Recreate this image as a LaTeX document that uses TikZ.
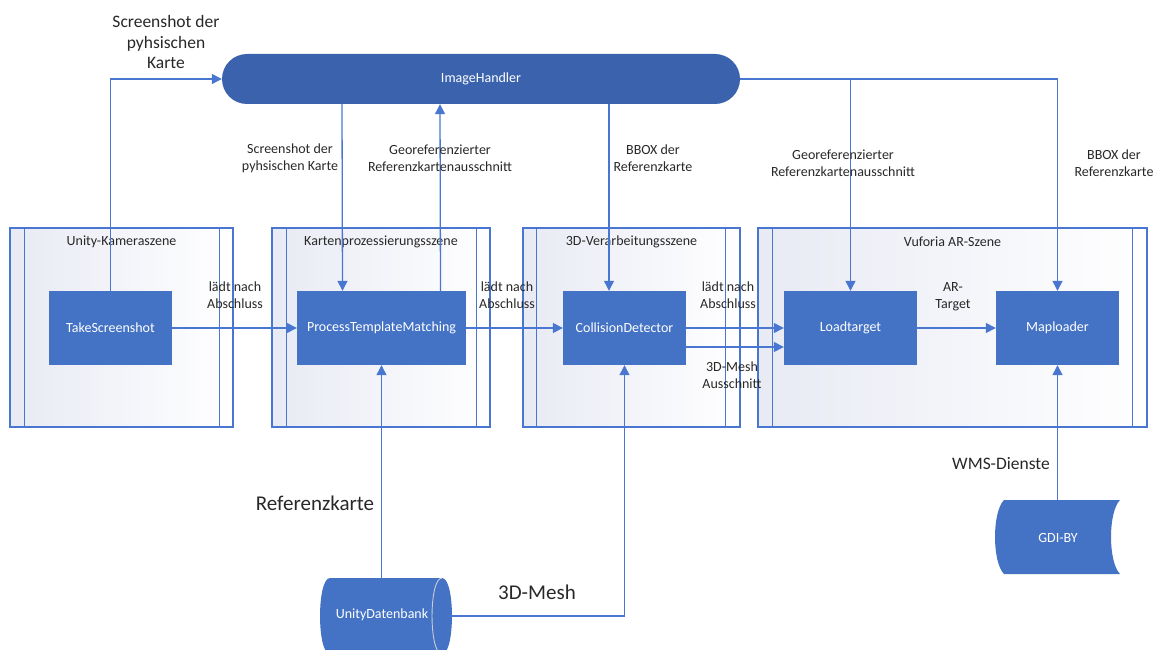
\documentclass[tikz,border=0pt]{standalone}
\usepackage{fontspec}
\setmainfont{Carlito}
\usetikzlibrary{arrows.meta,calc}
\definecolor{boxblue}{RGB}{68,114,196}
\definecolor{hdlblue}{RGB}{59,98,173}
\definecolor{lineblue}{RGB}{72,118,208}
\definecolor{lanefill}{RGB}{232,234,244}
\definecolor{txt}{RGB}{40,40,40}
\definecolor{rim}{RGB}{200,205,215}
\newcommand{\smallfont}{\fontsize{14}{17}\selectfont}
\newcommand{\midfont}{\fontsize{17.5}{20.5}\selectfont}
\newcommand{\bigfont}{\fontsize{21}{24}\selectfont}
\begin{document}
\begin{tikzpicture}[x=1pt,y=-1pt,
  lane/.style={draw=lineblue, line width=1.1pt, left color=lanefill, right color=white, minimum height=199pt, inner sep=0pt},
  laneline/.style={draw=lineblue, line width=1.1pt},
  lanetitle/.style={text=txt, font=\smallfont, inner sep=1pt},
  proc/.style={fill=boxblue, text=white, font=\smallfont, minimum width=123pt, minimum height=74pt, inner sep=0pt},
  hidden/.style={inner sep=0pt, text=white, font=\smallfont},
  lbl/.style={text=txt, font=\smallfont, align=center, inner sep=0pt},
  midlbl/.style={text=txt, font=\midfont, align=center, inner sep=0pt},
  biglbl/.style={text=txt, font=\bigfont, align=center, inner sep=0pt},
  conn/.style={draw=lineblue, line width=1.3pt},
  arr/.style={conn, -{Triangle[length=10pt,width=10pt]}}]
\clip (0,0) rectangle (1159,650);

% swimlanes
\node[lane, minimum width=223pt] (f1) at (121.5,327.5) {};
\node[lane, minimum width=218pt] (f2) at (381,327.5) {};
\node[lane, minimum width=217pt] (f3) at (631.5,327.5) {};
\node[lane, minimum width=389pt] (f4) at (952.5,327.5) {};
\foreach \f/\a/\b in {f1/15/14, f2/15/14, f3/14/15, f4/15/15}{
  \draw[laneline] ([xshift=\a pt]\f.north west) -- ([xshift=\a pt]\f.south west);
  \draw[laneline] ([xshift=-\b pt]\f.north east) -- ([xshift=-\b pt]\f.south east);
}
\node[lanetitle] (t1) at ($(f1.north)+(0,14)$) {Unity-Kameraszene};
\node[lanetitle] (t2) at ($(f2.north)+(0,14)$) {Kartenprozessierungsszene};
\node[lanetitle] (t3) at ($(f3.north)+(0,14)$) {3D-Verarbeitungsszene};
\node[lanetitle] (t4) at ($(f4.north)+(0,14)$) {Vuforia AR-Szene};

% image handler
\node[fill=hdlblue, text=white, font=\smallfont, rounded corners=25pt, minimum width=518pt, minimum height=50pt] (ih) at (481,79) {ImageHandler};

% process boxes
\node[proc] (ts) at (110.5,328) {TakeScreenshot};
\node[proc, minimum width=169pt] (pt) at (381.5,328) {ProcessTemplateMatching};
\node[proc] (cd) at (624.5,328) {CollisionDetector};
\node[proc, minimum width=133pt] (lt) at (850.5,328) {Loadtarget};
\node[proc] (ml) at (1057.5,328) {Maploader};

% data stores
\node[hidden, minimum width=122pt, minimum height=76pt] (db) at (386,616) {};
\fill[boxblue] (330,578) -- (442,578) .. controls (455.3,578) and (455.3,654) .. (442,654)
  -- (330,654) .. controls (316.7,654) and (316.7,578) .. (330,578) -- cycle;
\draw[rim, line width=0.9pt] (442,578) .. controls (428.7,578) and (428.7,654) .. (442,654);
\node[hidden] (dbt) at (382,615) {UnityDatenbank};

\node[hidden, minimum width=125pt, minimum height=74pt] (gdi) at (1057.5,537) {};
\fill[boxblue] (1004,500) -- (1120,500) .. controls (1108,512) and (1108,562) .. (1120,574)
  -- (1004,574) .. controls (992,562) and (992,512) .. (1004,500) -- cycle;
\node[hidden] (gdit) at (1058,538) {GDI-BY};

% connectors
\draw[arr] (ts.north) |- (ih.west);
\draw[arr] ($(ih.south)+(-139,0)$) -- ($(pt.north)+(-39,0)$);
\draw[arr] ($(pt.north)+(59,0)$) -- ($(ih.south)+(-41,0)$);
\draw[arr] ($(ih.south)+(128,0)$) -- ($(cd.north)+(-15.5,0)$);
\draw[arr] (ih.east) -| (ml.north);
\coordinate (br) at (ih.east -| lt.north);
\draw[arr] (br) -- (lt.north);
\draw[arr] (ts.east) -- (pt.west);
\draw[arr] (pt.east) -- (cd.west);
\draw[arr] (cd.east) -- (lt.west);
\draw[arr] ($(cd.east)+(0,19)$) -- ($(lt.west)+(0,19)$);
\draw[arr] (lt.east) -- (ml.west);
\draw[arr] (db.north -| pt.south) -- (pt.south);
\draw[arr] (db.east) -| (cd.south);
\draw[arr] (gdi.north) -- (ml.south);

% labels
\node[midlbl] (l1) at (166,42) {Screenshot der\\pyhsischen\\Karte};
\node[lbl] (l2) at (290,158.5) {Screenshot der\\pyhsischen Karte};
\node[lbl] (l3) at (440,158.5) {Georeferenzierter\\Referenzkartenausschnitt};
\node[lbl] (l4) at (653,158.5) {BBOX der\\Referenzkarte};
\node[lbl] (l5) at (843,163.5) {Georeferenzierter\\Referenzkartenausschnitt};
\node[lbl] (l6) at (1114,163.5) {BBOX der\\Referenzkarte};
\node[lbl] (l7) at (235,295) {lädt nach\\Abschluss};
\node[lbl] (l8) at (507,295) {lädt nach\\Abschluss};
\node[lbl] (l9) at (728,295) {lädt nach\\Abschluss};
\node[lbl] (l10) at (953,296.5) {AR-\\Target};
\node[lbl] (l11) at (732,375) {3D-Mesh\\Ausschnitt};
\node[biglbl] (l12) at (315,503) {Referenzkarte};
\node[biglbl] (l13) at (537,592) {3D-Mesh};
\node[midlbl] (l14) at (1001,464) {WMS-Dienste};
\end{tikzpicture}
\end{document}
